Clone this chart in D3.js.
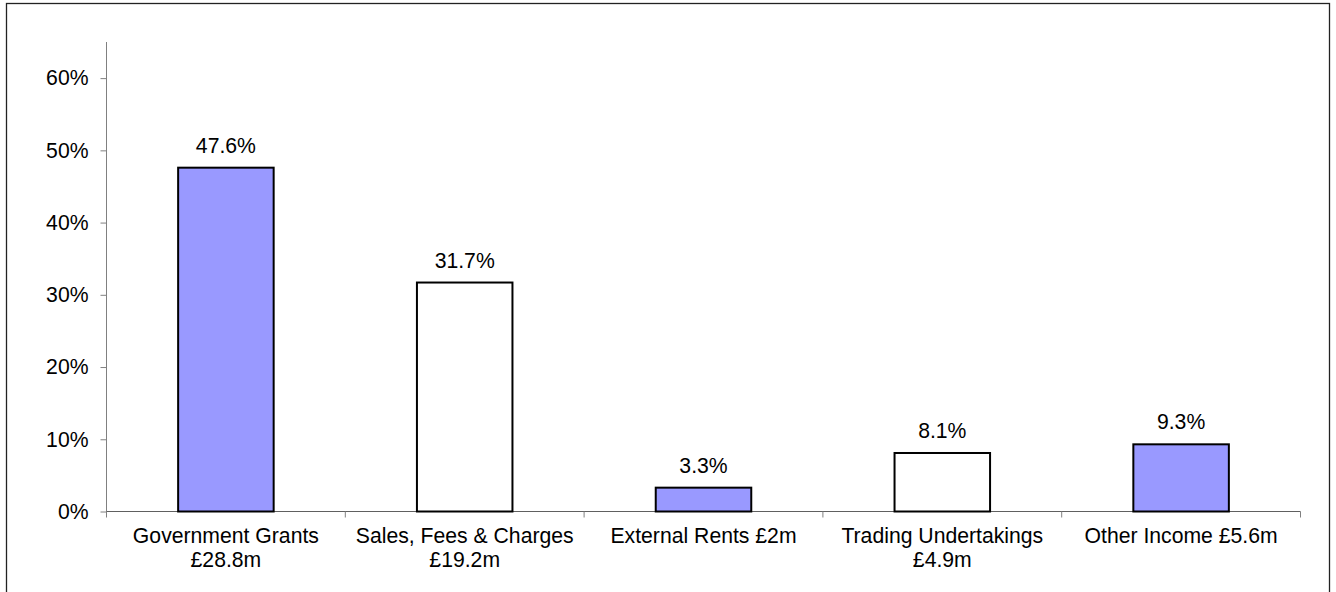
<!DOCTYPE html>
<html>
<head>
    <meta charset="utf-8">
    <title>Income sources</title>
    <script src="https://cdnjs.cloudflare.com/ajax/libs/d3/7.8.5/d3.min.js"></script>
    <style>
        html, body {
            margin: 0;
            padding: 0;
            background: #fff;
        }
        svg text {
            font-family: "Liberation Sans", Arial, sans-serif;
            fill: #000;
        }
    </style>
</head>
<body>
    <svg id="chart" width="1336" height="592"></svg>

    <script>
        // data
        var categories = ["Government Grants", "Sales, Fees & Charges", "External Rents", "Trading Undertakings", "Other Income"];
        var labelLines = [
            ["Government Grants", "£28.8m"],
            ["Sales, Fees & Charges", "£19.2m"],
            ["External Rents £2m"],
            ["Trading Undertakings", "£4.9m"],
            ["Other Income £5.6m"]
        ];
        var shares = [0.476, 0.317, 0.033, 0.081, 0.093];
        var yTicks = [0, 0.1, 0.2, 0.3, 0.4, 0.5, 0.6];
        var fills = ["#9999ff", "#ffffff", "#9999ff", "#ffffff", "#9999ff"];

        var svg = d3.select("#chart");
        var fontSize = 21.2;

        // outer frame
        svg.append("rect")
            .attr("x", 6.5)
            .attr("y", 3.5)
            .attr("width", 1323)
            .attr("height", 600)
            .attr("fill", "none")
            .attr("stroke", "#222")
            .attr("stroke-width", 1.3);

        var x = d3.scaleBand()
            .domain(categories)
            .range([106.5, 1300.5])
            .paddingInner(0.6)
            .paddingOuter(0.3);

        var y = d3.scaleLinear()
            .domain([0, 0.65])
            .range([511.5, 42]);

        // y axis
        var yAxis = svg.append("g")
            .attr("transform", "translate(106.5,0)")
            .call(d3.axisLeft(y).tickValues(yTicks).tickFormat(d3.format(".0%")).tickSize(6).tickPadding(12));
        yAxis.select(".domain").attr("stroke", "#808080").attr("d", "M0," + y(0.65) + "V517");
        yAxis.selectAll(".tick line").attr("stroke", "#808080");
        yAxis.selectAll(".tick text")
            .style("font-size", fontSize + "px")
            .attr("fill", "#000");

        // x axis line + boundary ticks
        var step = x.step();
        var bounds = d3.range(categories.length + 1).map(function (i) { return 106.5 + i * step; });
        svg.append("line")
            .attr("x1", 106.5).attr("x2", 1300.5)
            .attr("y1", y(0)).attr("y2", y(0))
            .attr("stroke", "#606060");
        svg.append("g").selectAll("line")
            .data(bounds)
            .join("line")
            .attr("x1", function (d) { return d; })
            .attr("x2", function (d) { return d; })
            .attr("y1", y(0))
            .attr("y2", y(0) + 6)
            .attr("stroke", "#808080");

        // bars
        svg.append("g").selectAll("rect")
            .data(shares)
            .join("rect")
            .attr("x", function (d, i) { return x(categories[i]); })
            .attr("y", function (d) { return y(d); })
            .attr("width", x.bandwidth())
            .attr("height", function (d) { return y(0) - y(d); })
            .attr("fill", function (d, i) { return fills[i]; })
            .attr("stroke", "#000")
            .attr("stroke-width", 2);

        // value labels
        svg.append("g").selectAll("text")
            .data(shares)
            .join("text")
            .attr("x", function (d, i) { return x(categories[i]) + x.bandwidth() / 2; })
            .attr("y", function (d) { return y(d) - 15; })
            .attr("text-anchor", "middle")
            .style("font-size", fontSize + "px")
            .text(function (d) { return d3.format(".1%")(d); });

        // category labels
        var catLabels = svg.append("g").selectAll("text")
            .data(labelLines)
            .join("text")
            .attr("text-anchor", "middle")
            .style("font-size", fontSize + "px")
            .attr("transform", function (d, i) {
                return "translate(" + (x(categories[i]) + x.bandwidth() / 2) + ",543)";
            });
        catLabels.selectAll("tspan")
            .data(function (d) { return d; })
            .join("tspan")
            .attr("x", 0)
            .attr("y", function (d, i) { return i * 23.5; })
            .text(function (d) { return d; });
    </script>
</body>
</html>
